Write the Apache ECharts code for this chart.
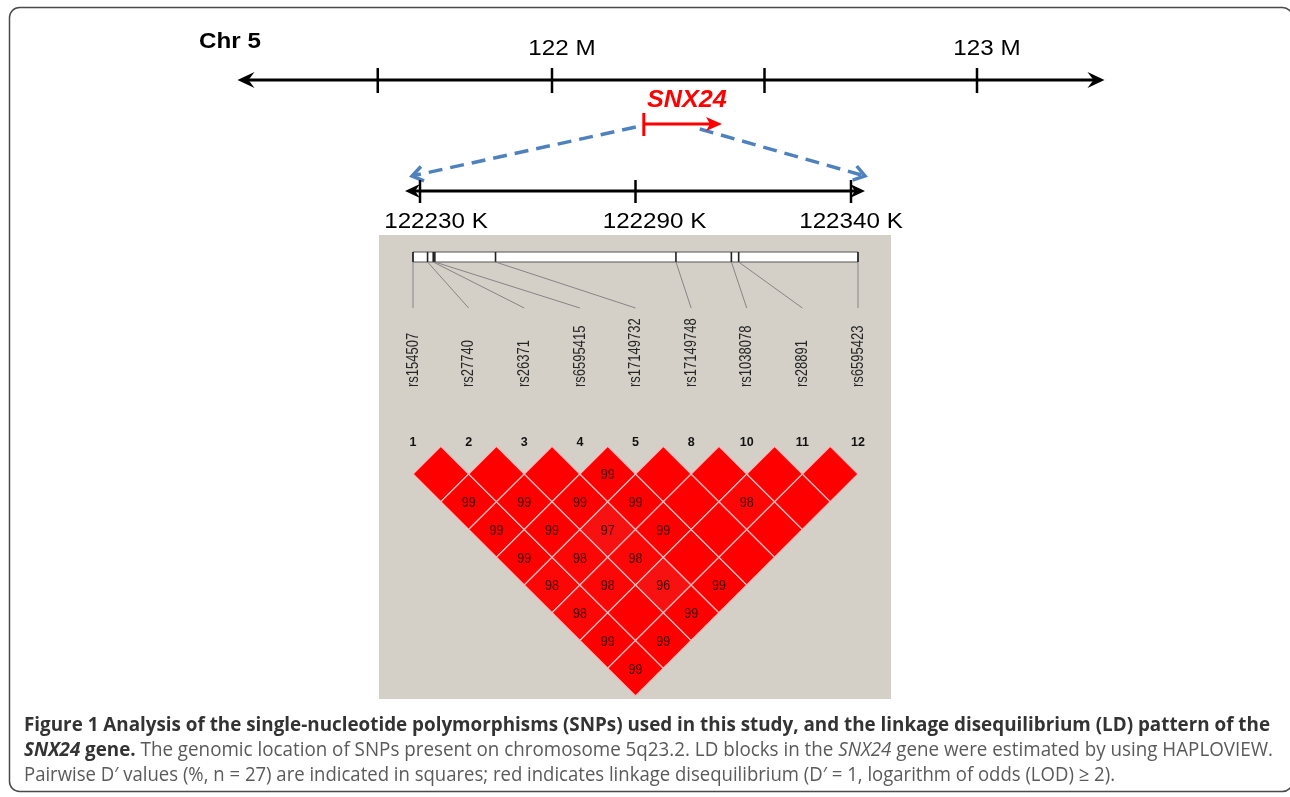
<!DOCTYPE html>
<html>
<head>
<meta charset="utf-8">
<script src="https://cdn.jsdelivr.net/npm/echarts@6/dist/echarts.min.js"></script>
<style>
html, body { margin: 0; padding: 0; background: #fff; }
#main { width: 1290px; height: 797px; }
</style>
</head>
<body>
<div id="main"></div>
<script>
// chromosome overview
var chromName = 'Chr 5';
var chromSpanMb = [121.26, 123.30];
var chromTicksMb = [121.59, 122, 122.5, 123];
var chromLabelMb = [122, 123];
var chromLabels = ['122 M', '123 M'];
var geneName = 'SNX24';
var geneSpanMb = [122.216, 122.4];

// zoomed region
var zoomLabels = ['122230 K', '122290 K', '122340 K'];

// SNPs (positions in kb from the first marker)
var snpNames = ['rs154507', 'rs27740', 'rs26371', 'rs6595415', 'rs17149732', 'rs17149748', 'rs1038078', 'rs28891', 'rs6595423'];
var snpNumbers = ['1', '2', '3', '4', '5', '8', '10', '11', '12'];
var snpPosKb = [0, 3.6, 5.0, 5.4, 20.4, 65.0, 78.7, 80.5, 110.0];

// pairwise D' (%) of marker i with markers j > i ; 100 = D' of 1 (no number shown)
var ldRows = [
  [100, 99, 99, 99, 98, 98, 99, 99],
  [100, 99, 99, 98, 98, 100, 99],
  [100, 99, 97, 98, 96, 99],
  [99, 99, 99, 100, 99],
  [100, 100, 100, 100],
  [100, 98, 100],
  [100, 100],
  [100]
];

var captionLine1 = 'Figure 1 Analysis of the single-nucleotide polymorphisms (SNPs) used in this study, and the linkage disequilibrium (LD) pattern of the';
var captionLine2 = [
  ['SNX24', 'italic bold'],
  [' gene.', 'bold'],
  [' The genomic location of SNPs present on chromosome 5q23.2. LD blocks in the ', 'normal'],
  ['SNX24', 'italic'],
  [' gene were estimated by using HAPLOVIEW.', 'normal']
];
var captionLine3 = 'Pairwise D\u2032 values (%, n = 27) are indicated in squares; red indicates linkage disequilibrium (D\u2032 = 1, logarithm of odds (LOD) \u2265 2).';

var LIB = '"Liberation Sans", Arial, sans-serif';
var CAP = '"Open Sans", sans-serif';

var ldData = [];
ldRows.forEach(function (row, i) {
  row.forEach(function (v, k) {
    var j = i + 1 + k;
    ldData.push([(i + j) / 2, j - i, v]);
  });
});

function cellColor(v) {
  if (v >= 99) return '#ff0000';
  if (v >= 98) return '#fc0606';
  return '#f71111';
}

function arrowHead(tip, from, len, half, notch, color) {
  var dx = tip[0] - from[0], dy = tip[1] - from[1];
  var L = Math.sqrt(dx * dx + dy * dy);
  var ux = dx / L, uy = dy / L, px = -uy, py = ux;
  return {
    type: 'polygon',
    shape: { points: [
      tip,
      [tip[0] - ux * len + px * half, tip[1] - uy * len + py * half],
      [tip[0] - ux * notch, tip[1] - uy * notch],
      [tip[0] - ux * len - px * half, tip[1] - uy * len - py * half]
    ] },
    style: { fill: color }
  };
}

function chevron(tip, from, len, ang, color, id) {
  var a = Math.atan2(from[1] - tip[1], from[0] - tip[0]);
  return {
    id: id, type: 'polyline',
    shape: { points: [
      [tip[0] + len * Math.cos(a + ang), tip[1] + len * Math.sin(a + ang)],
      tip,
      [tip[0] + len * Math.cos(a - ang), tip[1] + len * Math.sin(a - ang)]
    ] },
    style: { stroke: color, lineWidth: 3.5, fill: null }
  };
}

function hiddenX(gi, min, max) { return { type: 'value', gridIndex: gi, min: min, max: max, show: false }; }
function hiddenY(gi, min, max) { return { type: 'value', gridIndex: gi, min: min, max: max, inverse: true, show: false }; }

var chart = echarts.init(document.getElementById('main'));

var option = {
  backgroundColor: '#fff',
  animation: false,
  grid: [
    { left: 212, top: 80, width: 935, height: 10 },
    { left: 420, top: 191, width: 431, height: 10 },
    { left: 413, top: 252, width: 445, height: 135 },
    { left: 413, top: 446.25, width: 445, height: 249.75 }
  ],
  xAxis: [hiddenX(0, 121.2, 123.4), hiddenX(1, 0, zoomLabels.length - 1), hiddenX(2, snpPosKb[0], snpPosKb[snpPosKb.length - 1]), hiddenX(3, 0, snpNames.length - 1)],
  yAxis: [hiddenY(0, 0, 1), hiddenY(1, 0, 1), hiddenY(2, 0, 1), hiddenY(3, 0, snpNames.length)],
  graphic: {
    elements: [
      { id: 'panel', type: 'rect', z: -1, silent: true, shape: { x: 379, y: 235, width: 512, height: 464 }, style: { fill: '#d4d0c8' } },
      { id: 'border', type: 'rect', silent: true, shape: { x: 9.5, y: 7.5, width: 1283, height: 784, r: 10 }, style: { fill: null, stroke: '#4a4a4a', lineWidth: 1.5 } },
      { id: 'chr', type: 'text', x: 199, y: 42, scaleX: 1.1, style: { text: chromName, font: 'bold 22px ' + LIB, fill: '#000', align: 'left', verticalAlign: 'middle' } }
    ]
  },
  series: [
    // chromosome line
    {
      type: 'custom', xAxisIndex: 0, yAxisIndex: 0, clip: false, data: [chromSpanMb],
      renderItem: function (p, api) {
        var a = api.coord([api.value(0), 0]), b = api.coord([api.value(1), 0]);
        return { type: 'group', children: [
          { type: 'line', shape: { x1: a[0] + 8, y1: a[1], x2: b[0] - 8, y2: b[1] }, style: { stroke: '#000', lineWidth: 3 } },
          arrowHead(a, [a[0] + 1, a[1]], 17, 8, 11, '#000'),
          arrowHead(b, [b[0] - 1, b[1]], 17, 8, 11, '#000')
        ] };
      }
    },
    {
      type: 'custom', xAxisIndex: 0, yAxisIndex: 0, clip: false,
      data: chromTicksMb.map(function (v) { return [v, 0]; }),
      renderItem: function (p, api) {
        var c = api.coord([api.value(0), 0]);
        return { type: 'line', shape: { x1: c[0], y1: c[1] - 12, x2: c[0], y2: c[1] + 13 }, style: { stroke: '#000', lineWidth: 2.5 } };
      }
    },
    {
      type: 'custom', xAxisIndex: 0, yAxisIndex: 0, clip: false,
      data: chromLabelMb.map(function (v) { return [v, 0]; }),
      renderItem: function (p, api) {
        var c = api.coord([api.value(0), 0]);
        return { type: 'text', x: c[0] + 10, y: c[1] - 31, scaleX: 1.1, style: { text: chromLabels[p.dataIndex], font: '22px ' + LIB, fill: '#000', align: 'center', verticalAlign: 'middle' } };
      }
    },
    // gene
    {
      type: 'custom', xAxisIndex: 0, yAxisIndex: 0, clip: false, data: [geneSpanMb],
      renderItem: function (p, api) {
        var a = api.coord([api.value(0), 0]), b = api.coord([api.value(1), 0]);
        var y = a[1];
        return { type: 'group', children: [
          { type: 'line', shape: { x1: a[0], y1: y + 33, x2: a[0], y2: y + 56 }, style: { stroke: '#ff0000', lineWidth: 3 } },
          { type: 'line', shape: { x1: a[0], y1: y + 44, x2: b[0] - 10, y2: y + 44 }, style: { stroke: '#ff0000', lineWidth: 3 } },
          arrowHead([b[0], y + 44], [a[0], y + 44], 16, 7, 12, '#ff0000'),
          { type: 'text', x: (a[0] + b[0]) / 2 + 4, y: y + 20, scaleX: 1.05, style: { text: geneName, font: 'italic bold 24px ' + LIB, fill: '#ff0000', align: 'center', verticalAlign: 'middle' } }
        ] };
      }
    },
    // zoomed region line
    {
      type: 'custom', xAxisIndex: 1, yAxisIndex: 1, clip: false, data: [[0, zoomLabels.length - 1]],
      renderItem: function (p, api) {
        var a = api.coord([api.value(0), 0]), b = api.coord([api.value(1), 0]);
        var ta = [a[0] - 15, a[1]], tb = [b[0] + 14, b[1]];
        return { type: 'group', children: [
          { type: 'line', shape: { x1: ta[0] + 8, y1: ta[1], x2: tb[0] - 8, y2: tb[1] }, style: { stroke: '#000', lineWidth: 3 } },
          arrowHead(ta, [ta[0] + 1, ta[1]], 15, 7, 10, '#000'),
          arrowHead(tb, [tb[0] - 1, tb[1]], 15, 7, 10, '#000')
        ] };
      }
    },
    {
      type: 'custom', xAxisIndex: 1, yAxisIndex: 1, clip: false,
      data: zoomLabels.map(function (t, i) { return [i, 0]; }),
      renderItem: function (p, api) {
        var c = api.coord([api.value(0), 0]);
        var dx = [16, 19, 0][p.dataIndex];
        return { type: 'group', children: [
          { type: 'line', shape: { x1: c[0], y1: c[1] - 11, x2: c[0], y2: c[1] + 12 }, style: { stroke: '#000', lineWidth: 2.5 } },
          { type: 'text', x: c[0] + dx, y: c[1] + 31, scaleX: 1.1, style: { text: zoomLabels[p.dataIndex], font: '22px ' + LIB, fill: '#000', align: 'center', verticalAlign: 'middle' } }
        ] };
      }
    },
    // SNP map bar
    {
      type: 'custom', xAxisIndex: 2, yAxisIndex: 2, clip: false,
      data: [[snpPosKb[0], snpPosKb[snpPosKb.length - 1]]],
      renderItem: function (p, api) {
        var a = api.coord([api.value(0), 0]), b = api.coord([api.value(1), 0]);
        return { type: 'rect', shape: { x: a[0], y: a[1], width: b[0] - a[0], height: 10 }, style: { fill: '#ffffff', stroke: '#555', lineWidth: 1 } };
      }
    },
    // SNP ticks, connectors, names
    {
      type: 'custom', xAxisIndex: 2, yAxisIndex: 2, clip: false,
      data: snpPosKb.map(function (kb) { return [kb, 0]; }),
      renderItem: function (p, api) {
        var n = snpPosKb.length;
        var kb0 = snpPosKb[0], kb1 = snpPosKb[n - 1];
        var labelKb = kb0 + p.dataIndex * (kb1 - kb0) / (n - 1);
        var c = api.coord([api.value(0), 0]);
        var l = api.coord([labelKb, 0]);
        var top = p.coordSys.y, h = p.coordSys.height;
        return { type: 'group', children: [
          { type: 'line', shape: { x1: c[0], y1: top, x2: c[0], y2: top + 10 }, style: { stroke: '#222', lineWidth: 1.6 } },
          { type: 'line', shape: { x1: c[0], y1: top + 10, x2: l[0], y2: top + 56 }, style: { stroke: '#858585', lineWidth: 1 } },
          { type: 'text', x: l[0], y: top + h, rotation: Math.PI / 2, scaleY: 1.3, style: { text: snpNames[p.dataIndex], font: '13px ' + LIB, fill: '#262626', align: 'left', verticalAlign: 'middle' } }
        ] };
      }
    },
    // marker numbers
    {
      type: 'custom', xAxisIndex: 3, yAxisIndex: 3, clip: false,
      data: snpNumbers.map(function (s, i) { return [i, 0]; }),
      renderItem: function (p, api) {
        var c = api.coord([api.value(0), 0]);
        return { type: 'text', x: c[0], y: c[1] - 3.5, style: { text: snpNumbers[p.dataIndex], font: 'bold 12.5px ' + LIB, fill: '#111', align: 'center', verticalAlign: 'middle' } };
      }
    },
    // LD cells
    {
      type: 'custom', xAxisIndex: 3, yAxisIndex: 3, clip: false, data: ldData,
      renderItem: function (p, api) {
        var cx = api.value(0), d = api.value(1), v = api.value(2);
        var pts = [api.coord([cx, d - 1]), api.coord([cx + 0.5, d]), api.coord([cx, d + 1]), api.coord([cx - 0.5, d])];
        var c = api.coord([cx, d]);
        var kids = [{ type: 'polygon', shape: { points: pts }, style: { fill: cellColor(v), stroke: '#f4bcbc', lineWidth: 1.2 } }];
        if (v < 100) {
          kids.push({ type: 'text', x: c[0], y: c[1] + 1.5, scaleY: 1.1, style: { text: String(v), font: '12.5px ' + LIB, fill: '#420000', align: 'center', verticalAlign: 'middle' } });
        }
        return { type: 'group', children: kids };
      }
    }
  ]
};

chart.setOption(option);

// dashed zoom connectors, placed from the laid-out axes
var gs = chart.convertToPixel({ xAxisIndex: 0, yAxisIndex: 0 }, [geneSpanMb[0], 0]);
var zl = chart.convertToPixel({ xAxisIndex: 1, yAxisIndex: 1 }, [0, 0]);
var zr = chart.convertToPixel({ xAxisIndex: 1, yAxisIndex: 1 }, [zoomLabels.length - 1, 0]);
var lStart = [gs[0] - 8, gs[1] + 47], lEnd = [zl[0] - 8, zl[1] - 15];
var rStart = [gs[0] + 56, gs[1] + 49], rEnd = [zr[0] + 14, zr[1] - 15];
var BLUE = '#4f81bd';

// caption, condensed to the column width
var ctx = document.createElement('canvas').getContext('2d');
function capFont(w) { return w + ' 20px ' + CAP; }
function measure(t, w) { ctx.font = capFont(w); return ctx.measureText(t).width; }
function captionLine(segs, x0, x1, y, idp) {
  var total = 0;
  segs.forEach(function (s) { total += measure(s[0], s[1]); });
  var k = (x1 - x0) / total, x = x0, out = [];
  segs.forEach(function (s, i) {
    var bold = s[1].indexOf('bold') >= 0;
    out.push({ id: idp + i, type: 'text', x: x, y: y, scaleX: k, style: { text: s[0], font: capFont(s[1]), fill: bold ? '#333333' : '#5a5a5a', align: 'left', verticalAlign: 'middle' } });
    x += measure(s[0], s[1]) * k;
  });
  return out;
}

var extra = [
  { id: 'dl', type: 'line', shape: { x1: lStart[0], y1: lStart[1], x2: lEnd[0], y2: lEnd[1] }, style: { stroke: BLUE, lineWidth: 3.5, lineDash: [14, 8] } },
  { id: 'dr', type: 'line', shape: { x1: rStart[0], y1: rStart[1], x2: rEnd[0], y2: rEnd[1] }, style: { stroke: BLUE, lineWidth: 3.5, lineDash: [14, 8] } },
  chevron(lEnd, lStart, 13, 0.6, BLUE, 'al'),
  chevron(rEnd, rStart, 13, 0.6, BLUE, 'ar')
]
  .concat(captionLine([[captionLine1, 'bold']], 24, 1270, 725, 'c1_'))
  .concat(captionLine(captionLine2, 24, 1273, 750, 'c2_'))
  .concat(captionLine([[captionLine3, 'normal']], 24, 1115, 775, 'c3_'));

chart.setOption({ graphic: { elements: extra } });
</script>
</body>
</html>
